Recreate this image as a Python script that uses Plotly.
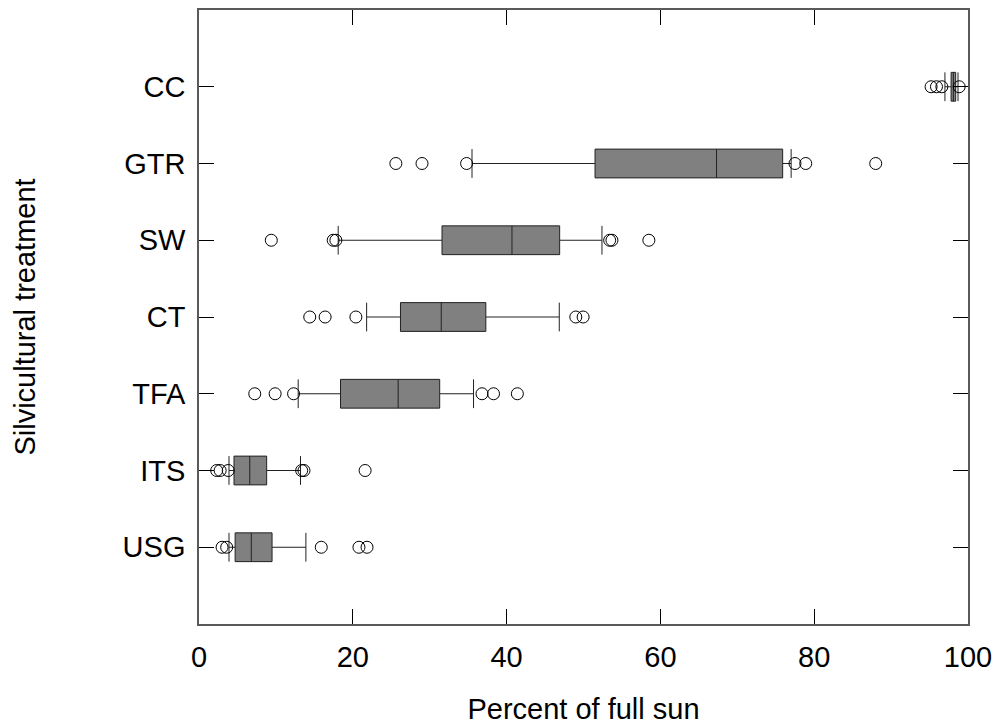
import plotly.graph_objects as go

# Silvicultural treatments, bottom to top
treatments = ["USG", "ITS", "TFA", "CT", "SW", "GTR", "CC"]

# Box statistics (percent of full sun)
lower_whisker = [3.9, 3.9, 12.9, 21.8, 18.1, 35.5, 97.0]
q1 = [4.7, 4.55, 18.4, 26.2, 31.6, 51.5, 97.8]
median = [6.8, 6.6, 25.9, 31.5, 40.7, 67.3, 98.1]
q3 = [9.5, 8.8, 31.3, 37.3, 46.9, 75.9, 98.4]
upper_whisker = [13.9, 13.2, 35.7, 46.85, 52.4, 77.0, 98.7]

# Outlying observations per treatment
outliers = {
    "USG": [3.0, 3.6, 15.9, 20.8, 21.85],
    "ITS": [2.3, 2.75, 3.8, 13.35, 13.65, 21.6],
    "TFA": [7.25, 9.9, 12.3, 36.8, 38.3, 41.4],
    "CT": [14.4, 16.4, 20.4, 49.0, 49.95],
    "SW": [9.4, 17.45, 17.8, 53.4, 53.7, 58.5],
    "GTR": [25.6, 29.0, 34.8, 77.5, 78.9, 88.0],
    "CC": [95.2, 95.9, 96.6, 98.85],
}

x_ticks = [0, 20, 40, 60, 80, 100]

FONT = "Liberation Sans, Arial, sans-serif"
AXIS_COLOR = "#5a5a5a"

fig = go.Figure()

fig.add_trace(go.Box(
    y=treatments,
    q1=q1,
    median=median,
    q3=q3,
    lowerfence=lower_whisker,
    upperfence=upper_whisker,
    orientation="h",
    width=0.375,
    whiskerwidth=1.0,
    fillcolor="#808080",
    line=dict(color="#222222", width=1),
    boxpoints=False,
    hoverinfo="skip",
    showlegend=False,
))

out_x, out_y = [], []
for t in treatments:
    for v in outliers[t]:
        out_x.append(v)
        out_y.append(t)

fig.add_trace(go.Scatter(
    x=out_x,
    y=out_y,
    mode="markers",
    marker=dict(symbol="circle-open", size=12, color="#000000",
                line=dict(width=1, color="#000000")),
    hoverinfo="skip",
    showlegend=False,
))

fig.update_layout(
    width=1000,
    height=725,
    margin=dict(l=199, r=32, t=10, b=101),
    paper_bgcolor="white",
    plot_bgcolor="white",
    font=dict(family=FONT, size=29, color="#000000"),
    showlegend=False,
)

fig.update_xaxes(
    range=[0, 100],
    tickvals=x_ticks,
    ticks="inside",
    ticklen=15,
    tickwidth=1,
    tickcolor="#000000",
    showline=True,
    linecolor=AXIS_COLOR,
    linewidth=1.5,
    mirror="ticks",
    showgrid=False,
    zeroline=False,
    automargin=False,
    ticklabelstandoff=6,
    title=dict(text="Percent of full sun", standoff=27,
               font=dict(family=FONT, size=29)),
)

fig.update_yaxes(
    type="category",
    categoryorder="array",
    categoryarray=treatments,
    range=[-1, 7],
    ticks="inside",
    ticklen=15,
    tickwidth=1,
    tickcolor="#000000",
    showline=True,
    linecolor=AXIS_COLOR,
    linewidth=1.5,
    mirror="ticks",
    showgrid=False,
    zeroline=False,
    automargin=False,
    ticklabelstandoff=6,
    title=dict(text="Silvicultural treatment", standoff=78,
               font=dict(family=FONT, size=29)),
)

fig.write_html("out.html")
